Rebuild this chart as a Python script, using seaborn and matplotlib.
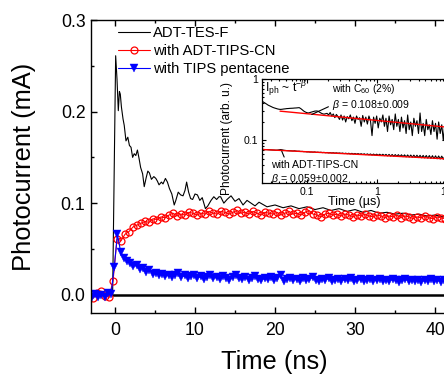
import numpy as np
import matplotlib
matplotlib.use("Agg")
import matplotlib.pyplot as plt
import matplotlib.ticker as ticker
import seaborn as sns

# main panel: ADT-TES-F trace (time in ns, photocurrent in mA)
tes_t = [-3.0, -2.5, -2.0, -1.5, -1.0, -0.5, -0.3, 0.08, 0.25, 0.41, 0.55, 0.66, 0.8, 1.0,
         1.15, 1.37, 1.6, 1.8, 2.0, 2.2, 2.4, 2.6, 2.8, 3.0, 3.2, 3.45, 3.65, 3.9, 4.1, 4.3,
         4.55, 4.85, 5.1, 5.3, 5.5, 5.8, 6.0, 6.3, 6.55, 6.8, 7.1, 7.4, 7.6, 7.9, 8.2, 8.5,
         8.75, 8.95, 9.2, 9.45, 9.7, 10.0, 10.3, 10.6, 10.9, 11.3, 11.6, 12.0, 12.35, 12.7,
         13.0, 13.2, 13.6, 14.0, 14.5, 15.0, 15.5, 16.0, 16.5, 17.0, 17.5, 18.0, 19, 20, 21,
         22, 23, 24, 25, 26, 27, 28, 29, 30, 31, 32, 33, 34, 35, 36, 37, 38, 39, 40, 41, 42]
tes_pc = [0.0, 0.001, -0.001, 0.0, 0.001, 0.0, 0.0, 0.261, 0.235, 0.201, 0.222, 0.219, 0.205, 0.192,
          0.185, 0.168, 0.172, 0.163, 0.161, 0.150, 0.154, 0.152, 0.158, 0.149, 0.139, 0.132, 0.118,
          0.128, 0.135, 0.133, 0.126, 0.129, 0.127, 0.124, 0.120, 0.123, 0.121, 0.127, 0.123, 0.116,
          0.110, 0.098, 0.103, 0.112, 0.109, 0.108, 0.114, 0.123, 0.112, 0.105, 0.104, 0.110, 0.109,
          0.103, 0.106, 0.094, 0.097, 0.103, 0.107, 0.104, 0.107, 0.107, 0.100, 0.104, 0.108, 0.102,
          0.105, 0.098, 0.103, 0.100, 0.097, 0.101, 0.096, 0.098, 0.095, 0.097, 0.094, 0.096, 0.093,
          0.095, 0.092, 0.094, 0.091, 0.093, 0.090, 0.092, 0.089, 0.090, 0.088, 0.089, 0.087, 0.088,
          0.086, 0.087, 0.085, 0.086]

# with ADT-TIPS-CN, sampled every 0.5 ns from -2.75 ns
cn_start, cn_step = -2.75, 0.5
cn_pc = [-0.004, 0.002, 0.004, -0.001, -0.003, 0.015, 0.061, 0.059, 0.066, 0.069,
         0.074, 0.076, 0.078, 0.080, 0.079, 0.083, 0.082, 0.085, 0.084, 0.087,
         0.089, 0.086, 0.088, 0.087, 0.090, 0.089, 0.087, 0.089, 0.088, 0.091,
         0.089, 0.088, 0.091, 0.090, 0.088, 0.090, 0.092, 0.089, 0.090, 0.088,
         0.091, 0.089, 0.087, 0.090, 0.089, 0.088, 0.090, 0.087, 0.089, 0.091,
         0.088, 0.089, 0.087, 0.090, 0.092, 0.088, 0.087, 0.085, 0.088, 0.089,
         0.087, 0.088, 0.086, 0.088, 0.087, 0.085, 0.087, 0.086, 0.088, 0.086,
         0.085, 0.087, 0.086, 0.084, 0.086, 0.085, 0.087, 0.084, 0.086, 0.085,
         0.083, 0.085, 0.084, 0.086, 0.084, 0.083, 0.085, 0.084, 0.083]

# with TIPS pentacene, sampled every 0.4 ns from -2.9 ns
tp_start, tp_step = -2.9, 0.4
tp_pc = [-0.002, 0.001, -0.003, 0.000, -0.002, 0.002, 0.001, 0.030, 0.066, 0.047,
         0.040, 0.037, 0.035, 0.031, 0.032, 0.028, 0.029, 0.025, 0.027, 0.023,
         0.024, 0.021, 0.023, 0.020, 0.022, 0.019, 0.021, 0.024, 0.019, 0.021,
         0.018, 0.020, 0.022, 0.018, 0.020, 0.017, 0.019, 0.021, 0.018, 0.019,
         0.017, 0.020, 0.018, 0.016, 0.019, 0.021, 0.018, 0.017, 0.019, 0.016,
         0.018, 0.020, 0.017, 0.016, 0.018, 0.017, 0.019, 0.016, 0.018, 0.021,
         0.015, 0.017, 0.018, 0.016, 0.017, 0.015, 0.018, 0.016, 0.017, 0.019,
         0.016, 0.015, 0.017, 0.016, 0.018, 0.015, 0.016, 0.017, 0.015, 0.017,
         0.016, 0.018, 0.015, 0.016, 0.017, 0.015, 0.016, 0.017, 0.015, 0.016,
         0.017, 0.015, 0.016, 0.015, 0.017, 0.016, 0.014, 0.016, 0.017, 0.015,
         0.016, 0.015, 0.016, 0.014, 0.016, 0.015, 0.017, 0.015, 0.016, 0.014,
         0.016, 0.015, 0.016]

zero_t = [-0.3, 50]
zero_pc = [0.0, 0.0]

# inset: log-log decay (time in us), sampled on a log grid
ins_tmin, ins_tmax = 0.0226, 10.0
c60_pc = [0.435, 0.42, 0.405, 0.39, 0.375, 0.365, 0.355, 0.345, 0.338, 0.332,
          0.326, 0.322, 0.32, 0.322, 0.325, 0.327, 0.33, 0.331, 0.333, 0.334,
          0.335, 0.337, 0.338, 0.34, 0.342, 0.33, 0.315, 0.30, 0.29, 0.283,
          0.28, 0.285, 0.29, 0.295, 0.30, 0.302, 0.30, 0.29, 0.28, 0.272,
          0.268, 0.272, 0.276, 0.26, 0.285, 0.25, 0.27, 0.235, 0.265, 0.245,
          0.22, 0.26, 0.215, 0.25, 0.20, 0.245, 0.225, 0.26, 0.21, 0.24,
          0.19, 0.25, 0.22, 0.235, 0.17, 0.255, 0.20, 0.24, 0.185, 0.25,
          0.21, 0.12, 0.24, 0.19, 0.25, 0.16, 0.23, 0.20, 0.26, 0.17,
          0.23, 0.14, 0.25, 0.18, 0.22, 0.15, 0.27, 0.17, 0.22, 0.14,
          0.24, 0.16, 0.21, 0.13, 0.26, 0.15, 0.20, 0.12, 0.23, 0.17,
          0.21, 0.13, 0.28, 0.14, 0.19, 0.12, 0.22, 0.15, 0.18, 0.125,
          0.21, 0.14, 0.19, 0.105, 0.20, 0.13, 0.18, 0.10, 0.19, 0.14]
cn_log_pc = [0.072, 0.0715, 0.071, 0.0712, 0.0708, 0.0705, 0.0703, 0.07, 0.0698, 0.0695,
             0.0698, 0.0705, 0.0712, 0.0705, 0.0695, 0.069, 0.0685, 0.0683, 0.068, 0.0678,
             0.0675, 0.068, 0.0672, 0.0668, 0.067, 0.0662, 0.0665, 0.0658, 0.066, 0.0652,
             0.0655, 0.0648, 0.065, 0.0645, 0.0652, 0.064, 0.0646, 0.0638, 0.0644, 0.0635,
             0.0641, 0.0632, 0.0638, 0.0628, 0.0635, 0.0626, 0.0633, 0.0622, 0.063, 0.062,
             0.0627, 0.0616, 0.0625, 0.0612, 0.0622, 0.061, 0.062, 0.0605, 0.0618, 0.0602,
             0.0615, 0.0598, 0.0613, 0.0595, 0.061, 0.0592, 0.0608, 0.0588, 0.0606, 0.0585,
             0.0604, 0.058, 0.0602, 0.0578, 0.06, 0.0574, 0.0598, 0.057, 0.0597, 0.0567,
             0.0595, 0.0562, 0.0594, 0.0558, 0.0592, 0.0555, 0.059, 0.0552, 0.0588, 0.0548,
             0.0586, 0.0545, 0.0584, 0.0541, 0.0582, 0.0538, 0.058, 0.0534, 0.0578, 0.053,
             0.0576, 0.0527, 0.0574, 0.0523, 0.0572, 0.052, 0.057, 0.0516, 0.0568, 0.0512,
             0.0566, 0.0508, 0.0563, 0.0504, 0.056, 0.05, 0.0557, 0.0496, 0.0554, 0.0492]
fit_c60_t, fit_c60_pc = [0.041, 10.0], [0.30, 0.165]
fit_cn_t, fit_cn_pc = [0.0226, 10.0], [0.0714, 0.0503]

cn_t = cn_start + cn_step * np.arange(len(cn_pc))
tp_t = tp_start + tp_step * np.arange(len(tp_pc))
ins_t = np.geomspace(ins_tmin, ins_tmax, len(c60_pc))

sns.set_style("ticks")
plt.rcParams["font.family"] = ["Liberation Sans", "DejaVu Sans"]
plt.rcParams["mathtext.fontset"] = "custom"
plt.rcParams["mathtext.rm"] = "Liberation Sans"
plt.rcParams["mathtext.it"] = "Liberation Sans:italic"
for key in ["text.color", "axes.labelcolor", "xtick.color", "ytick.color", "axes.edgecolor"]:
    plt.rcParams[key] = "black"

fig = plt.figure(figsize=(4.44, 3.75), dpi=100)
ax = fig.add_axes([0.2050, 0.1653, 0.955, 0.7813])

sns.lineplot(x=zero_t, y=zero_pc, ax=ax, color="black", lw=1.8, sort=False, estimator=None)
sns.lineplot(x=tes_t, y=tes_pc, ax=ax, color="black", lw=0.8, sort=False, estimator=None)
sns.lineplot(x=cn_t, y=cn_pc, ax=ax, color="red", lw=0.8, marker="o", ms=5,
             markerfacecolor="none", markeredgecolor="red", mew=0.9, sort=False, estimator=None)
sns.lineplot(x=tp_t, y=tp_pc, ax=ax, color="blue", lw=0.8, marker="v", ms=6,
             markeredgecolor="blue", mew=0.3, sort=False, estimator=None)

ax.set_xlim(-3, 50)
ax.set_ylim(-0.02, 0.3)
ax.xaxis.set_major_locator(ticker.MultipleLocator(10))
ax.xaxis.set_minor_locator(ticker.MultipleLocator(5))
ax.yaxis.set_major_locator(ticker.MultipleLocator(0.1))
ax.yaxis.set_minor_locator(ticker.MultipleLocator(0.05))
ax.yaxis.set_major_formatter(ticker.FormatStrFormatter("%.1f"))
ax.tick_params(which="both", direction="in", top=True, right=True, width=1, labelsize=12.7)
ax.tick_params(which="major", length=4)
ax.tick_params(which="minor", length=2)
ax.tick_params(axis="x", pad=6.5)
ax.tick_params(axis="y", pad=4)
for s in ax.spines.values():
    s.set_linewidth(1.0)
ax.set_xlabel("Time (ns)", fontsize=18.4)
ax.set_ylabel("Photocurrent (mA)", fontsize=18.4)
ax.xaxis.set_label_coords(0.432, -0.125)
ax.yaxis.set_label_coords(-0.13, 0.5)

handles = ax.lines[1:4]
ax.legend(handles, ["ADT-TES-F", "with ADT-TIPS-CN", "with TIPS pentacene"],
          loc="upper left", bbox_to_anchor=(118 / 444, 1 - 26 / 375),
          bbox_transform=fig.transFigure, frameon=False, fontsize=10.6,
          borderpad=0, borderaxespad=0, handlelength=2.16, handletextpad=0.2,
          labelspacing=0.26)

# inset
axi = fig.add_axes([0.5901, 0.5107, 0.4153, 0.2787])
axi.set_facecolor("white")
sns.lineplot(x=ins_t, y=c60_pc, ax=axi, color="black", lw=0.8, sort=False, estimator=None)
sns.lineplot(x=ins_t, y=cn_log_pc, ax=axi, color="black", lw=0.8, sort=False, estimator=None)
sns.lineplot(x=fit_c60_t, y=fit_c60_pc, ax=axi, color="red", lw=1.0, sort=False, estimator=None)
sns.lineplot(x=fit_cn_t, y=fit_cn_pc, ax=axi, color="red", lw=1.0, sort=False, estimator=None)
axi.set_xscale("log")
axi.set_yscale("log")
axi.set_xlim(ins_tmin, ins_tmax)
axi.set_ylim(0.02, 1)
fmt = ticker.FuncFormatter(lambda v, p: f"{v:g}")
axi.xaxis.set_major_formatter(fmt)
axi.yaxis.set_major_formatter(fmt)
axi.xaxis.set_minor_formatter(ticker.NullFormatter())
axi.yaxis.set_minor_formatter(ticker.NullFormatter())
axi.tick_params(which="both", direction="in", top=True, right=True, width=0.8, labelsize=7.6, pad=2.5)
axi.tick_params(which="major", length=3)
axi.tick_params(which="minor", length=1.5)
for s in axi.spines.values():
    s.set_linewidth(0.9)
axi.set_xlabel("Time (\u00b5s)", fontsize=9)
axi.set_ylabel("Photocurrent (arb. u.)", fontsize=8.6)
axi.xaxis.set_label_coords(0.5, -0.12)
axi.yaxis.set_label_coords(-0.16, 0.43)

axi.text(0.016, 0.878, r"I$_{\mathrm{ph}}$ ~ t$^{-\beta}$", transform=axi.transAxes,
         fontsize=8.8, va="baseline", ha="left")
axi.text(0.378, 0.878, r"with C$_{60}$ (2%)", transform=axi.transAxes,
         fontsize=7.5, va="baseline", ha="left")
axi.annotate(r"$\beta$ = 0.108$\pm$0.009", xy=(0.117, 0.265), xycoords="data",
             xytext=(0.378, 0.72), textcoords="axes fraction", fontsize=7.6,
             va="baseline", ha="left",
             arrowprops=dict(arrowstyle="-", lw=0.8, color="black", relpos=(0, 0.5),
                             shrinkA=0, shrinkB=0))
axi.annotate("with ADT-TIPS-CN", xy=(0.0434, 0.067), xycoords="data",
             xytext=(0.047, 0.145), textcoords="axes fraction", fontsize=7.6,
             va="baseline", ha="left",
             arrowprops=dict(arrowstyle="-", lw=0.8, color="black", relpos=(0.17, 1.0),
                             shrinkA=0, shrinkB=0))
axi.text(0.047, 0.01, r"$\beta$ = 0.059$\pm$0.002", transform=axi.transAxes,
         fontsize=7.6, va="baseline", ha="left")

fig.savefig("out.png", dpi=100)
